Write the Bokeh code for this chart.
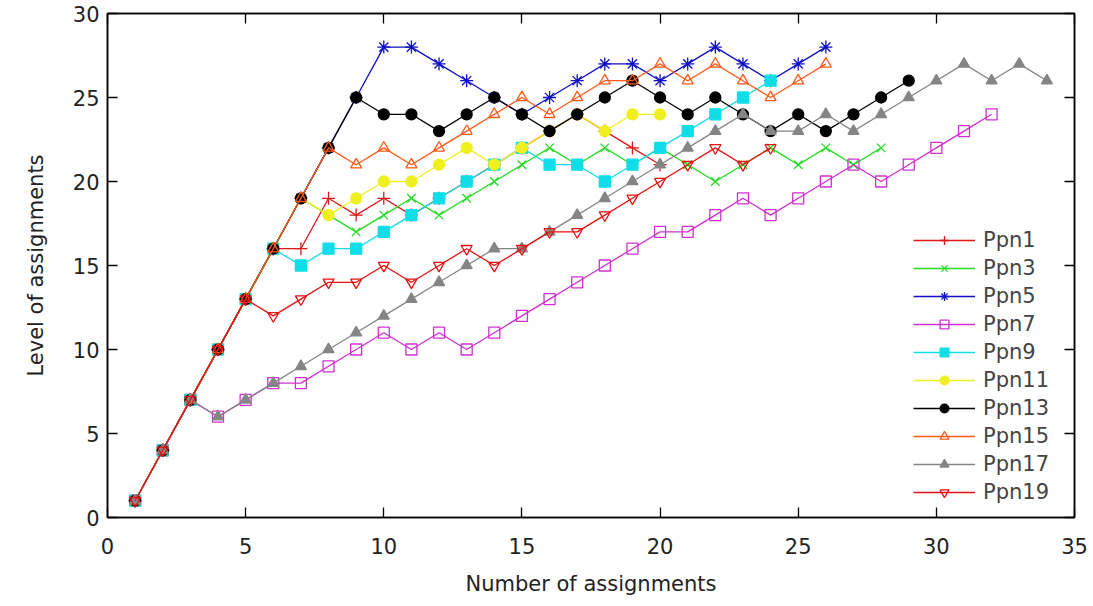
from bokeh.plotting import figure
from bokeh.models import Range1d, LinearAxis, FixedTicker, Legend, LegendItem
from bokeh.embed import file_html
from bokeh.resources import INLINE

# ---- data ----
names = ["Ppn1", "Ppn3", "Ppn5", "Ppn7", "Ppn9", "Ppn11", "Ppn13", "Ppn15", "Ppn17", "Ppn19"]

ppn1 = [1, 4, 7, 10, 13, 16, 16, 19, 18, 19, 18, 19, 20, 21, 22, 23, 24, 23, 22, 21]
ppn3 = [1, 4, 7, 10, 13, 16, 19, 18, 17, 18, 19, 18, 19, 20, 21, 22, 21, 22, 21, 22,
        21, 20, 21, 22, 21, 22, 21, 22]
ppn5 = [1, 4, 7, 10, 13, 16, 19, 22, 25, 28, 28, 27, 26, 25, 24, 25, 26, 27, 27, 26,
        27, 28, 27, 26, 27, 28]
ppn7 = [1, 4, 7, 6, 7, 8, 8, 9, 10, 11, 10, 11, 10, 11, 12, 13, 14, 15, 16, 17,
        17, 18, 19, 18, 19, 20, 21, 20, 21, 22, 23, 24]
ppn9 = [1, 4, 7, 10, 13, 16, 15, 16, 16, 17, 18, 19, 20, 21, 22, 21, 21, 20, 21, 22,
        23, 24, 25, 26]
ppn11 = [1, 4, 7, 10, 13, 16, 19, 18, 19, 20, 20, 21, 22, 21, 22, 23, 24, 23, 24, 24]
ppn13 = [1, 4, 7, 10, 13, 16, 19, 22, 25, 24, 24, 23, 24, 25, 24, 23, 24, 25, 26, 25,
         24, 25, 24, 23, 24, 23, 24, 25, 26]
ppn15 = [1, 4, 7, 10, 13, 16, 19, 22, 21, 22, 21, 22, 23, 24, 25, 24, 25, 26, 26, 27,
         26, 27, 26, 25, 26, 27]
ppn17 = [1, 4, 7, 6, 7, 8, 9, 10, 11, 12, 13, 14, 15, 16, 16, 17, 18, 19, 20, 21,
         22, 23, 24, 23, 23, 24, 23, 24, 25, 26, 27, 26, 27, 26]
ppn19 = [1, 4, 7, 10, 13, 12, 13, 14, 14, 15, 14, 15, 16, 15, 16, 17, 17, 18, 19, 20,
         21, 22, 21, 22]

series = [ppn1, ppn3, ppn5, ppn7, ppn9, ppn11, ppn13, ppn15, ppn17, ppn19]

x_ticks = [0, 5, 10, 15, 20, 25, 30, 35]
y_ticks = [0, 5, 10, 15, 20, 25, 30]

# ---- styles ----
colors = ["#e01818", "#22dd22", "#1010c8", "#d030d0", "#10dde8", "#f0f020",
          "#000000", "#ff5a1a", "#858585", "#e81010"]
markers = ["cross", "x", "asterisk", "square", "square", "circle", "circle",
           "triangle", "triangle", "inverted_triangle"]
filled = [False, False, False, False, True, True, True, False, True, False]
sizes = [13, 12, 13, 11, 11, 11, 11, 11, 11, 11]

FONT = "DejaVu Sans"

p = figure(width=1090, height=600, output_backend="svg", toolbar_location=None,
           x_range=Range1d(0, 35), y_range=Range1d(0, 30),
           min_border_left=107, min_border_right=16, min_border_top=13,
           min_border_bottom=83)
p.background_fill_color = "white"
p.border_fill_color = "white"
p.outline_line_color = "black"
p.outline_line_width = 1.5
p.xgrid.visible = False
p.ygrid.visible = False

items = []
for name, ys, c, m, f, s in zip(names, series, colors, markers, filled, sizes):
    xs = list(range(1, len(ys) + 1))
    r1 = p.line(xs, ys, line_color=c, line_width=1.3)
    r2 = p.scatter(xs, ys, marker=m, size=s, line_color=c, line_width=1.3,
                   fill_color=c if f else None)
    items.append(LegendItem(label=name, renderers=[r1, r2]))

legend = Legend(items=items, location=(806, 13))
legend.label_text_font = FONT
legend.label_text_font_size = "21px"
legend.label_height = 22
legend.glyph_height = 22
legend.glyph_width = 62
legend.spacing = 4
legend.padding = 4
legend.label_standoff = 8
legend.border_line_color = None
legend.background_fill_alpha = 0
p.add_layout(legend, "center")

for ax in (p.xaxis[0], p.yaxis[0]):
    ax.major_label_text_font = FONT
    ax.major_label_text_font_size = "21px"
    ax.major_label_text_color = "#222222"
    ax.axis_label_text_font = FONT
    ax.axis_label_text_font_size = "21px"
    ax.axis_label_text_font_style = "normal"
    ax.axis_label_text_color = "#222222"
    ax.major_tick_in = 10
    ax.major_tick_out = 0
    ax.minor_tick_in = 0
    ax.minor_tick_out = 0
    ax.axis_line_color = "black"
    ax.axis_line_width = 1.5
    ax.major_tick_line_width = 1.3

p.xaxis[0].ticker = FixedTicker(ticks=x_ticks)
p.yaxis[0].ticker = FixedTicker(ticks=y_ticks)
p.xaxis[0].axis_label = "Number of assignments"
p.yaxis[0].axis_label = "Level of assignments"
p.xaxis[0].major_label_standoff = 20
p.yaxis[0].major_label_standoff = 8
p.xaxis[0].axis_label_standoff = 15
p.yaxis[0].axis_label_standoff = 22

# mirrored inward ticks on top and right (no labels)
for loc, ticks in (("above", x_ticks), ("right", y_ticks)):
    ax = LinearAxis(ticker=FixedTicker(ticks=ticks))
    ax.major_label_overrides = {t: "" for t in ticks}
    ax.major_label_standoff = 0
    ax.major_tick_in = 10
    ax.major_tick_out = 0
    ax.minor_tick_in = 0
    ax.minor_tick_out = 0
    ax.axis_line_color = "black"
    ax.axis_line_width = 1.5
    ax.major_tick_line_width = 1.3
    p.add_layout(ax, loc)

open("out.html", "w").write(file_html(p, INLINE))
